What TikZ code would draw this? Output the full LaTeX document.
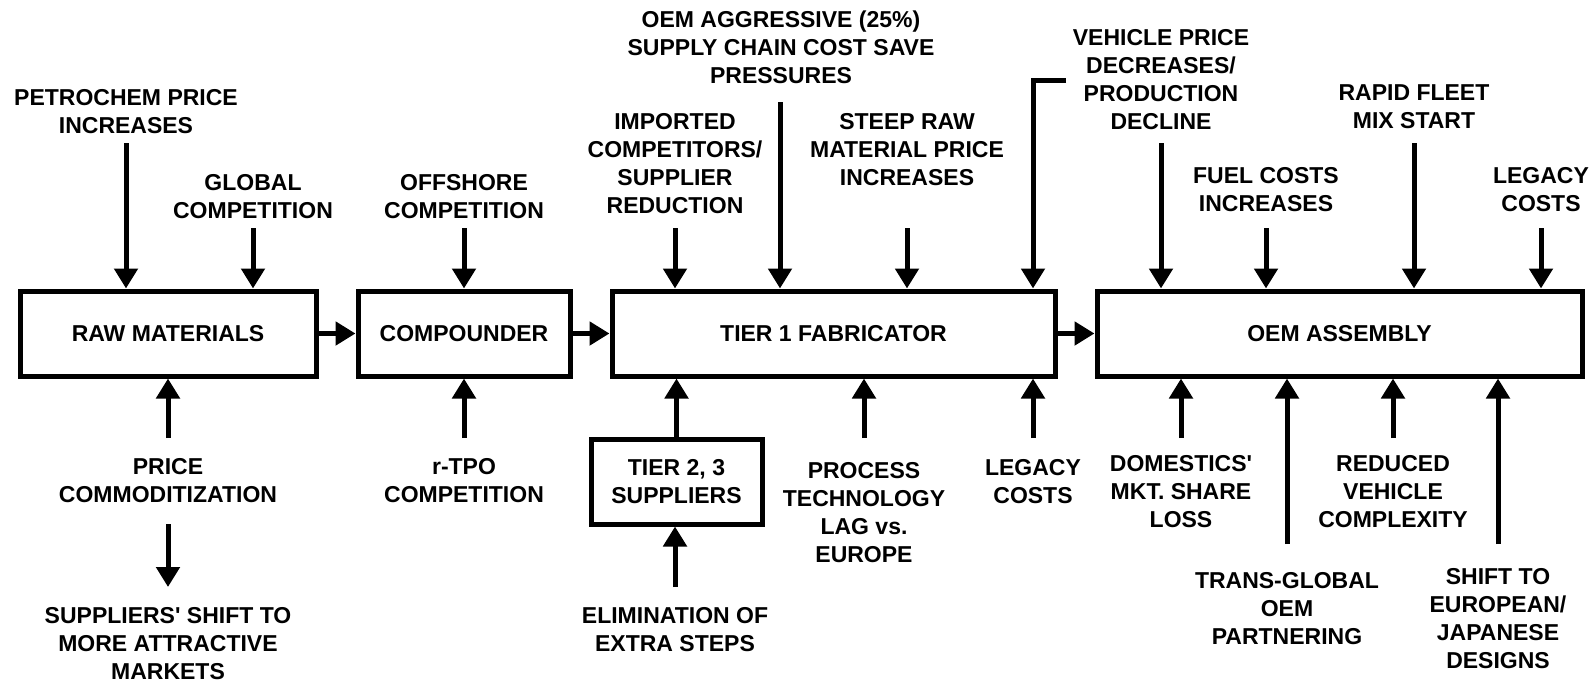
\documentclass[tikz,border=0pt]{standalone}
\usepackage{fontspec}
\setmainfont{Liberation Sans}[BoldFont={Liberation Sans Bold}]
\usetikzlibrary{arrows.meta}
\begin{document}
\begin{tikzpicture}[x=1pt, y=-1pt,
    box/.style={draw, line width=5pt, minimum height=85pt, inner sep=0pt, align=center,
      font=\fontsize{23}{28}\selectfont\bfseries},
    lbl/.style={align=center, anchor=base, inner sep=0pt,
      font=\fontsize{23}{28}\selectfont\bfseries},
    arr/.style={line width=5pt, -{Triangle[length=20pt, width=23pt]}}]
    \useasboundingbox (0,0) rectangle (1595,681);
    % main chain
    \node[box, minimum width=296pt] (raw) at (168,333.5) {RAW MATERIALS};
    \node[box, minimum width=212pt] (comp) at (464,333.5) {COMPOUNDER};
    \node[box, minimum width=443pt] (tier1) at (833.5,333.5) {TIER 1 FABRICATOR};
    \node[box, minimum width=485pt] (oem) at (1339.5,333.5) {OEM ASSEMBLY};
    \node[box, minimum width=171pt] (tier2) at (676.5,481.5) {TIER 2, 3\\SUPPLIERS};
    \draw[arr] (raw) -- (comp);
    \draw[arr] (comp) -- (tier1);
    \draw[arr] (tier1) -- (oem);
    \draw[arr] (tier2) -- (tier2 |- tier1.south);
    % pressures from above
    \node[lbl] (petro) at (126,133) {PETROCHEM PRICE\\INCREASES};
    \node[lbl] (global) at (253,218) {GLOBAL\\COMPETITION};
    \node[lbl] (offshore) at (464,218) {OFFSHORE\\COMPETITION};
    \node[lbl] (imported) at (675,213) {IMPORTED\\COMPETITORS/\\SUPPLIER\\REDUCTION};
    \node[lbl] (aggr) at (781,83) {OEM AGGRESSIVE (25\%)\\SUPPLY CHAIN COST SAVE\\PRESSURES};
    \node[lbl] (steep) at (907,185) {STEEP RAW\\MATERIAL PRICE\\INCREASES};
    \node[lbl] (vehicle) at (1161,129) {VEHICLE PRICE\\DECREASES/\\PRODUCTION\\DECLINE};
    \node[lbl] (fuel) at (1266,211) {FUEL COSTS\\INCREASES};
    \node[lbl] (fleet) at (1414,128) {RAPID FLEET\\MIX START};
    \node[lbl] (legacyA) at (1541,211) {LEGACY\\COSTS};
    \coordinate (petroT) at (126,143);
    \coordinate (globalT) at (253,228);
    \coordinate (offshoreT) at (464,228);
    \coordinate (importedT) at (675,228);
    \coordinate (aggrT) at (780,102);
    \coordinate (steepT) at (907,228);
    \coordinate (elbowA) at (1066,80);
    \coordinate (elbowB) at (1033,80);
    \coordinate (vehicleT) at (1161,143);
    \coordinate (fuelT) at (1266,228);
    \coordinate (fleetT) at (1414,143);
    \coordinate (legacyAT) at (1541,228);
    \draw[arr] (petroT) -- (petroT |- raw.north);
    \draw[arr] (globalT) -- (globalT |- raw.north);
    \draw[arr] (offshoreT) -- (offshoreT |- comp.north);
    \draw[arr] (importedT) -- (importedT |- tier1.north);
    \draw[arr] (aggrT) -- (aggrT |- tier1.north);
    \draw[arr] (steepT) -- (steepT |- tier1.north);
    \draw[arr] (elbowA) -- (elbowB) -- (elbowB |- tier1.north);
    \draw[arr] (vehicleT) -- (vehicleT |- oem.north);
    \draw[arr] (fuelT) -- (fuelT |- oem.north);
    \draw[arr] (fleetT) -- (fleetT |- oem.north);
    \draw[arr] (legacyAT) -- (legacyAT |- oem.north);
    % pressures from below
    \node[lbl] (price) at (168,502) {PRICE\\COMMODITIZATION};
    \node[lbl] (shift) at (168,679) {SUPPLIERS\textquotesingle{} SHIFT TO\\MORE ATTRACTIVE\\MARKETS};
    \node[lbl] (rtpo) at (464,502) {r-TPO\\COMPETITION};
    \node[lbl] (elim) at (675,651) {ELIMINATION OF\\EXTRA STEPS};
    \node[lbl] (process) at (864,562) {PROCESS\\TECHNOLOGY\\LAG vs.\\EUROPE};
    \node[lbl] (legacyB) at (1033,503) {LEGACY\\COSTS};
    \node[lbl] (domestic) at (1181,527) {DOMESTICS\textquotesingle\\MKT. SHARE\\LOSS};
    \node[lbl] (trans) at (1287,644) {TRANS-GLOBAL\\OEM\\PARTNERING};
    \node[lbl] (reduced) at (1393,527) {REDUCED\\VEHICLE\\COMPLEXITY};
    \node[lbl] (euro) at (1498,668) {SHIFT TO\\EUROPEAN/\\JAPANESE\\DESIGNS};
    \coordinate (priceT) at (168,438);
    \coordinate (priceA) at (168,524);
    \coordinate (priceB) at (168,587);
    \coordinate (rtpoT) at (464,438);
    \coordinate (elimT) at (675,587);
    \coordinate (processT) at (864,438);
    \coordinate (legacyBT) at (1033,438);
    \coordinate (domesticT) at (1181,438);
    \coordinate (transT) at (1287,544);
    \coordinate (reducedT) at (1393,438);
    \coordinate (euroT) at (1498,544);
    \draw[arr] (priceT) -- (priceT |- raw.south);
    \draw[arr] (priceA) -- (priceB);
    \draw[arr] (rtpoT) -- (rtpoT |- comp.south);
    \draw[arr] (elimT) -- (elimT |- tier2.south);
    \draw[arr] (processT) -- (processT |- tier1.south);
    \draw[arr] (legacyBT) -- (legacyBT |- tier1.south);
    \draw[arr] (domesticT) -- (domesticT |- oem.south);
    \draw[arr] (transT) -- (transT |- oem.south);
    \draw[arr] (reducedT) -- (reducedT |- oem.south);
    \draw[arr] (euroT) -- (euroT |- oem.south);
\end{tikzpicture}
\end{document}
